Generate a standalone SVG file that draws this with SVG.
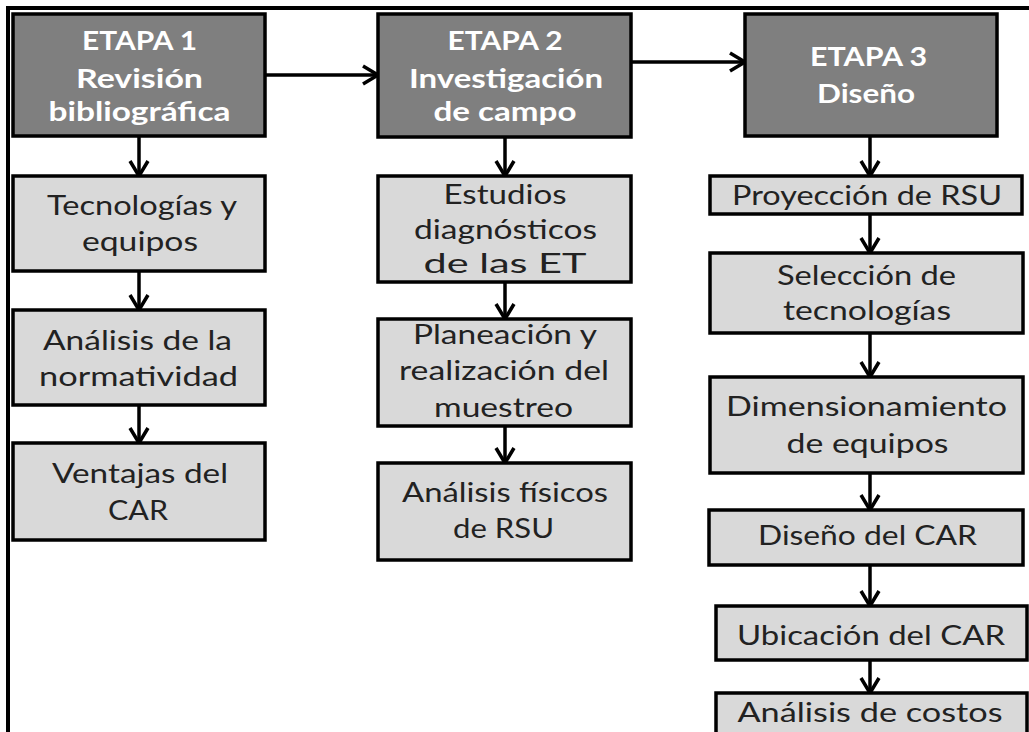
<svg xmlns="http://www.w3.org/2000/svg" width="1029" height="732" viewBox="0 0 1029 732">
<defs>
<marker id="arr" markerUnits="userSpaceOnUse" markerWidth="22" markerHeight="22" viewBox="0 0 22 22" refX="19" refY="11" orient="auto">
<path d="M4,2 L19,11 L4,20" fill="none" stroke="#000" stroke-width="3.5" stroke-linejoin="miter"/>
</marker>
<style>
.hd{fill:#7f7f7f;stroke:#000;stroke-width:3.5}
.bx{fill:#d9d9d9;stroke:#000;stroke-width:3.5}
.ht{font-family:Lato,"Open Sans",sans-serif;font-weight:bold;font-size:26px;fill:#fff;text-anchor:middle}
.bt{font-family:Lato,"Open Sans",sans-serif;font-size:26px;fill:#222;text-anchor:middle}
.cn{fill:none;stroke:#000;stroke-width:3.5;marker-end:url(#arr)}
.fr{fill:none;stroke:#000;stroke-width:4}
</style>
</defs>
<rect width="1029" height="732" fill="#fff"/>
<g id="frame">
<line class="fr" x1="6" y1="8" x2="1029" y2="8"/>
<line class="fr" x1="8" y1="6" x2="8" y2="732"/>
</g>
<g id="connectors">
<line class="cn" x1="265" y1="75" x2="378" y2="75"/>
<line class="cn" x1="631" y1="62" x2="745" y2="62"/>
<line class="cn" x1="139" y1="136" x2="139" y2="176"/>
<line class="cn" x1="139" y1="271" x2="139" y2="310"/>
<line class="cn" x1="139" y1="405" x2="139" y2="443"/>
<line class="cn" x1="505" y1="137" x2="505" y2="176"/>
<line class="cn" x1="505" y1="282" x2="505" y2="319"/>
<line class="cn" x1="505" y1="426" x2="505" y2="463"/>
<line class="cn" x1="870" y1="136" x2="870" y2="176"/>
<line class="cn" x1="870" y1="214" x2="870" y2="253"/>
<line class="cn" x1="870" y1="333" x2="870" y2="377"/>
<line class="cn" x1="870" y1="473" x2="870" y2="510"/>
<line class="cn" x1="870" y1="565" x2="870" y2="606"/>
<line class="cn" x1="870" y1="660" x2="870" y2="693"/>
</g>
<g id="etapa1">
<rect class="hd" x="13" y="14" width="252" height="122"/>
<text class="ht" x="139.5" y="50" textLength="115" lengthAdjust="spacingAndGlyphs">ETAPA 1</text>
<text class="ht" x="139.5" y="88" textLength="127" lengthAdjust="spacingAndGlyphs">Revisión</text>
<text class="ht" x="139.5" y="121" textLength="182" lengthAdjust="spacingAndGlyphs">bibliográfica</text>
</g>
<g id="tecnologias">
<rect class="bx" x="13" y="176" width="252" height="95"/>
<text class="bt" x="142" y="215" textLength="190" lengthAdjust="spacingAndGlyphs">Tecnologías y</text>
<text class="bt" x="140" y="251" textLength="116" lengthAdjust="spacingAndGlyphs">equipos</text>
</g>
<g id="normatividad">
<rect class="bx" x="13" y="310" width="252" height="95"/>
<text class="bt" x="137.5" y="350" textLength="189" lengthAdjust="spacingAndGlyphs">Análisis de la</text>
<text class="bt" x="138.5" y="386" textLength="199" lengthAdjust="spacingAndGlyphs">normatividad</text>
</g>
<g id="ventajas">
<rect class="bx" x="13" y="443" width="252" height="97"/>
<text class="bt" x="140" y="483" textLength="176" lengthAdjust="spacingAndGlyphs">Ventajas del</text>
<text class="bt" x="138" y="520" textLength="60" lengthAdjust="spacingAndGlyphs">CAR</text>
</g>
<g id="etapa2">
<rect class="hd" x="378" y="14" width="253" height="123"/>
<text class="ht" x="505" y="50" textLength="115" lengthAdjust="spacingAndGlyphs">ETAPA 2</text>
<text class="ht" x="506" y="88" textLength="194" lengthAdjust="spacingAndGlyphs">Investigación</text>
<text class="ht" x="505" y="121" textLength="143" lengthAdjust="spacingAndGlyphs">de campo</text>
</g>
<g id="estudios">
<rect class="bx" x="378" y="176" width="253" height="106"/>
<text class="bt" x="505" y="204" textLength="123" lengthAdjust="spacingAndGlyphs">Estudios</text>
<text class="bt" x="505.5" y="239" textLength="183" lengthAdjust="spacingAndGlyphs">diagnósticos</text>
<text class="bt" x="505" y="273" textLength="163" lengthAdjust="spacingAndGlyphs">de las ET</text>
</g>
<g id="planeacion">
<rect class="bx" x="378" y="319" width="253" height="107"/>
<text class="bt" x="505" y="344" textLength="184" lengthAdjust="spacingAndGlyphs">Planeación y</text>
<text class="bt" x="504" y="380" textLength="210" lengthAdjust="spacingAndGlyphs">realización del</text>
<text class="bt" x="503.5" y="417" textLength="139" lengthAdjust="spacingAndGlyphs">muestreo</text>
</g>
<g id="analisis-fisicos">
<rect class="bx" x="378" y="463" width="253" height="97"/>
<text class="bt" x="505" y="502" textLength="206" lengthAdjust="spacingAndGlyphs">Análisis físicos</text>
<text class="bt" x="503.5" y="538" textLength="101" lengthAdjust="spacingAndGlyphs">de RSU</text>
</g>
<g id="etapa3">
<rect class="hd" x="745" y="14" width="252" height="122"/>
<text class="ht" x="868.5" y="66" textLength="117" lengthAdjust="spacingAndGlyphs">ETAPA 3</text>
<text class="ht" x="866" y="103" textLength="98" lengthAdjust="spacingAndGlyphs">Diseño</text>
</g>
<g id="proyeccion">
<rect class="bx" x="710" y="176" width="312" height="38"/>
<text class="bt" x="867" y="205" textLength="270" lengthAdjust="spacingAndGlyphs">Proyección de RSU</text>
</g>
<g id="seleccion">
<rect class="bx" x="710" y="253" width="313" height="80"/>
<text class="bt" x="866.5" y="285" textLength="179" lengthAdjust="spacingAndGlyphs">Selección de</text>
<text class="bt" x="867" y="320" textLength="168" lengthAdjust="spacingAndGlyphs">tecnologías</text>
</g>
<g id="dimensionamiento">
<rect class="bx" x="710" y="377" width="313" height="96"/>
<text class="bt" x="866.5" y="416" textLength="281" lengthAdjust="spacingAndGlyphs">Dimensionamiento</text>
<text class="bt" x="867.5" y="453" textLength="162" lengthAdjust="spacingAndGlyphs">de equipos</text>
</g>
<g id="diseno-car">
<rect class="bx" x="709" y="510" width="314" height="55"/>
<text class="bt" x="867.5" y="545" textLength="219" lengthAdjust="spacingAndGlyphs">Diseño del CAR</text>
</g>
<g id="ubicacion">
<rect class="bx" x="716" y="606" width="311" height="54"/>
<text class="bt" x="871" y="645" textLength="268" lengthAdjust="spacingAndGlyphs">Ubicación del CAR</text>
</g>
<g id="costos">
<rect class="bx" x="716" y="693" width="311" height="50"/>
<text class="bt" x="870" y="722" textLength="265" lengthAdjust="spacingAndGlyphs">Análisis de costos</text>
</g>
</svg>
